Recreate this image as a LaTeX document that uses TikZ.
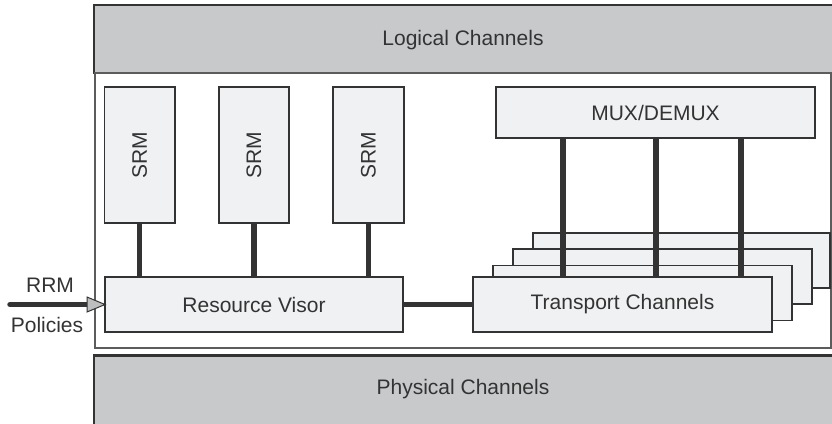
\documentclass[tikz,border=0pt]{standalone}
\usepackage{fontspec}
\setmainfont{Liberation Sans}
\usetikzlibrary{arrows.meta}
\definecolor{bandgray}{HTML}{C8C9CB}
\definecolor{boxfill}{HTML}{F0F1F3}
\definecolor{ink}{HTML}{333333}
\definecolor{tipgray}{HTML}{BDBEC0}
\tikzset{
  lbl/.style={font=\fontsize{21bp}{25bp}\selectfont, text=ink},
  band/.style={draw=ink, line width=2.2bp, fill=bandgray},
  blk/.style={draw=ink, line width=1.8bp, fill=boxfill, inner sep=0pt, outer sep=0pt, lbl},
  conn/.style={draw=ink, line width=5.5bp},
}
\begin{document}
\begin{tikzpicture}[x=1bp, y=-1bp]
\useasboundingbox (0,0) rectangle (832,423);
\begin{scope}
\clip (0,0) rectangle (832,423);
% outer bands and frame
\draw[band] (94,5) rectangle (845,73);
\draw[draw=ink!80, line width=1.2bp] (95,73) rectangle (831,348);
\draw[band] (94,355.5) rectangle (845,440);
\node[lbl] (logical) at (463,40) {Logical Channels};
\node[lbl] (physical) at (463,389) {Physical Channels};

% stacked transport channel cards (back to front)
\node[blk, minimum width=297bp, minimum height=55bp] (tc4) at (681.5,260.5) {};
\node[blk, minimum width=299bp, minimum height=55bp] (tc3) at (662.5,276.5) {};
\node[blk, minimum width=299bp, minimum height=55bp] (tc2) at (642.5,293) {};

% MUX/DEMUX and its links into the transport channels
\node[blk, minimum width=319bp, minimum height=51bp] (mux) at (655.5,112.5) {MUX/DEMUX};
\coordinate (m1) at (563,140);
\coordinate (m2) at (656,140);
\coordinate (m3) at (741,140);
\draw[conn] (m1 |- mux.south) -- (m1 |- 0,277);
\draw[conn] (m2 |- mux.south) -- (m2 |- 0,277);
\draw[conn] (m3 |- mux.south) -- (m3 |- 0,277);
\node[blk, minimum width=299bp, minimum height=55bp] (tc) at (622.5,304.5) {Transport Channels};

% SRM blocks
\node[blk, minimum width=70.5bp, minimum height=136.6bp] (srm1) at (139.7,155) {\rotatebox{90}{SRM}};
\node[blk, minimum width=70.5bp, minimum height=136.6bp] (srm2) at (254,155) {\rotatebox{90}{SRM}};
\node[blk, minimum width=70.5bp, minimum height=136.6bp] (srm3) at (368.5,155) {\rotatebox{90}{SRM}};

% resource visor and its links
\node[blk, minimum width=298bp, minimum height=55bp] (rv) at (254,304.5) {Resource Visor};
\draw[conn] (srm1.south) -- (srm1.south |- rv.north);
\draw[conn] (srm2.south) -- (srm2.south |- rv.north);
\draw[conn] (srm3.south) -- (srm3.south |- rv.north);
\draw[conn] (rv.east) -- (tc.west);

% RRM policies input
\coordinate (src) at (10,304.5);
\draw[draw=ink, line width=5.5bp, line cap=round] (src) -- (90,304.5);
\draw[draw=ink, line width=1bp, fill=tipgray] (rv.west) -- (87,297) -- (87,312) -- cycle;
\node[lbl] (rrm) at (50,285.5) {RRM};
\node[lbl] (pol) at (47,325) {Policies};
\end{scope}
\end{tikzpicture}
\end{document}
